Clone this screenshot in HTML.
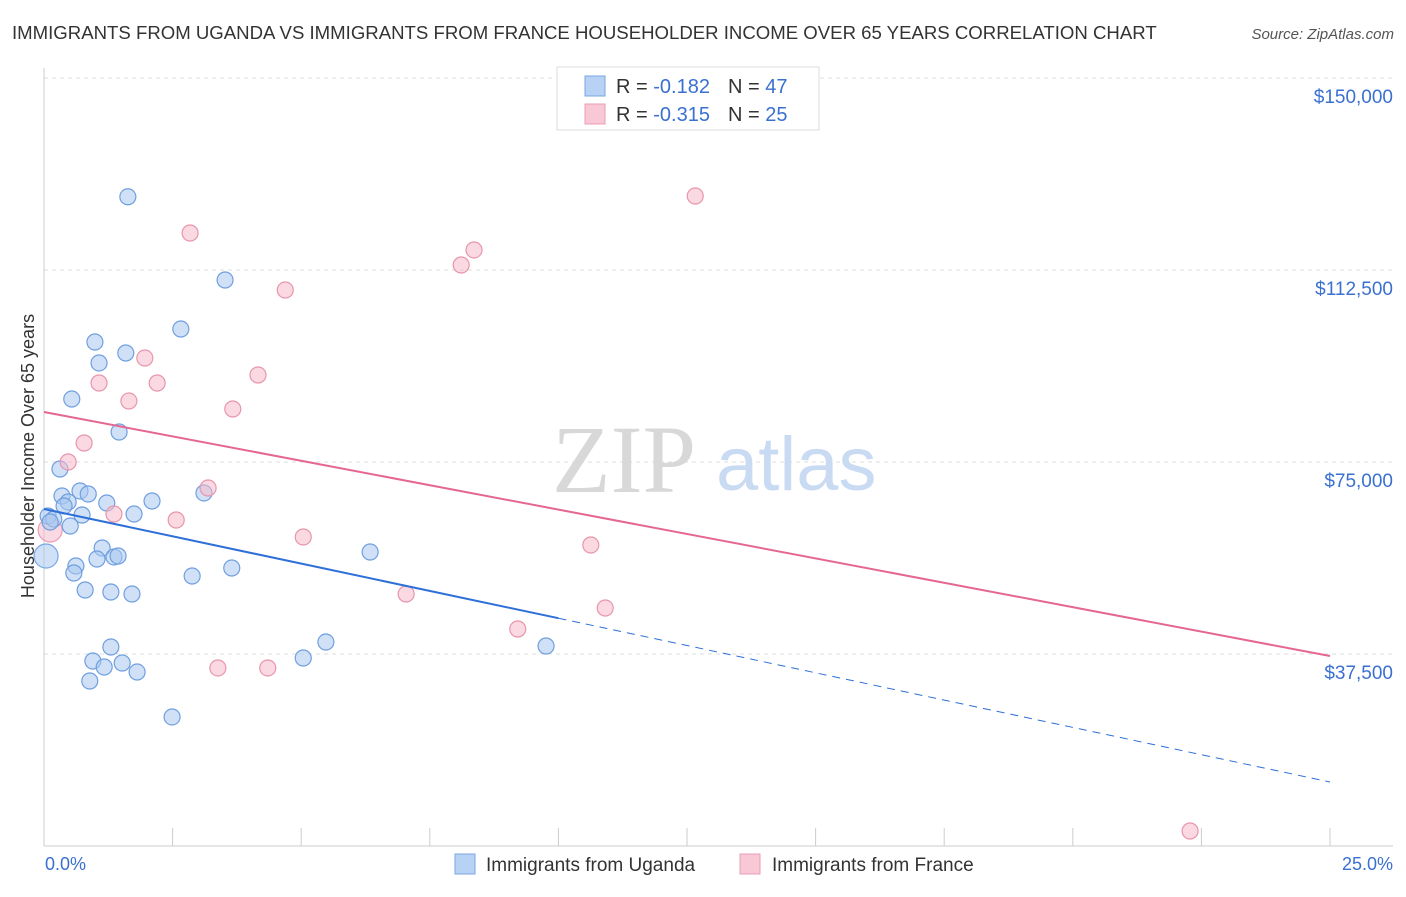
<!DOCTYPE html>
<html><head><meta charset="utf-8"><style>
body{margin:0;background:#fff;font-family:"Liberation Sans",sans-serif;}
svg text{font-family:"Liberation Sans",sans-serif;}
</style></head><body>
<svg width="1406" height="892" viewBox="0 0 1406 892">
<text x="12" y="39" font-size="18.6" fill="#333">IMMIGRANTS FROM UGANDA VS IMMIGRANTS FROM FRANCE HOUSEHOLDER INCOME OVER 65 YEARS CORRELATION CHART</text>
<text x="1394" y="39" font-size="15" fill="#555" font-style="italic" text-anchor="end">Source: ZipAtlas.com</text>
<g id="grid"></g>
<g>
<text x="552" y="492" font-size="96" fill="#d8d8d8" style="font-family:'Liberation Serif',serif">ZIP</text>
<text x="716" y="490" font-size="76" fill="#c9dbf2">atlas</text>
</g>
<g id="axes"></g>
<g id="marks"></g>
<text transform="translate(34,456) rotate(-90)" font-size="18" fill="#333" text-anchor="middle">Householder Income Over 65 years</text>
<text x="45" y="870" font-size="18" fill="#3a70d0">0.0%</text>
<text x="1393" y="870" font-size="18" fill="#3a70d0" text-anchor="end">25.0%</text>
<g>
<rect x="557" y="67" width="262" height="63" fill="#fff" stroke="#ddd"/>
<rect x="585" y="76" width="20" height="20" fill="#b7d2f5" stroke="#7aa6e3"/>
<rect x="585" y="104" width="20" height="20" fill="#f9c8d6" stroke="#ea9db4"/>
<text x="616" y="93" font-size="20" fill="#333">R = <tspan fill="#3a70d0">-0.182</tspan><tspan dx="18">N = </tspan><tspan fill="#3a70d0">47</tspan></text>
<text x="616" y="121" font-size="20" fill="#333">R = <tspan fill="#3a70d0">-0.315</tspan><tspan dx="18">N = </tspan><tspan fill="#3a70d0">25</tspan></text>
</g>
<g>
<rect x="455" y="854" width="20" height="20" fill="#b7d2f5" stroke="#7aa6e3"/>
<text x="486" y="871" font-size="19" fill="#333">Immigrants from Uganda</text>
<rect x="740" y="854" width="20" height="20" fill="#f9c8d6" stroke="#ea9db4"/>
<text x="772" y="871" font-size="19" fill="#333">Immigrants from France</text>
</g>
</svg>
<script>
const yTicks=[37500,75000,112500,150000];
const yTickLabels=["$37,500","$75,000","$112,500","$150,000"];
const xTicks=[0,2.5,5,7.5,10,12.5,15,17.5,20,22.5,25];
const ugandaX=[1.63,3.52,2.66,0.99,1.59,1.07,0.54,1.46,0.31,0.35,0.70,0.86,0.47,0.39,1.22,2.10,0.08,0.19,0.74,1.75,3.11,0.51,1.13,1.03,1.36,1.44,6.34,0.62,0.58,3.65,2.88,0.80,1.30,1.71,1.30,0.95,1.17,1.52,1.81,0.89,5.04,5.48,9.76,2.49,0.12];
const ugandaY=[126800,110550,100980,98440,96290,94340,87300,80860,73630,68360,69340,68750,67190,66410,66990,67380,64450,63870,64650,64840,68950,62500,58200,56050,56450,56640,57420,54690,53320,54300,52730,50000,49610,49220,38870,36130,34960,35740,33980,32230,36720,39840,39060,25200,63280];
const ugandaBigX=[0.04], ugandaBigY=[56640];
const franceX=[2.84,12.66,8.36,8.11,4.69,1.96,1.07,2.20,4.16,1.65,3.67,0.78,0.47,3.19,1.36,2.57,5.04,10.63,7.04,10.91,9.21,3.38,4.35,22.28];
const franceY=[119730,126950,116410,113480,108590,95310,90430,90430,91990,86910,85350,78710,75000,69920,64840,63670,60350,58790,49220,46480,42380,34770,34770,2930];
const franceBigX=[0.12], franceBigY=[61720];
const ugandaTrend=[65820,12500], franceTrend=[84770,37110];
const ugandaSolidEnd=10;
const NS="http://www.w3.org/2000/svg";
const xs=v=>44+v*51.44;
const ys=v=>846-v/195.3125;
function mk(tag,attrs,parent){const e=document.createElementNS(NS,tag);for(const k in attrs)e.setAttribute(k,attrs[k]);document.getElementById(parent).appendChild(e);return e;}
yTicks.forEach((t,i)=>{
 const g=mk('line',{x1:44,x2:1393,y1:ys(t),y2:ys(t),stroke:'#ddd','stroke-dasharray':'4,4'},'grid');
 
 
 const l=mk('text',{x:1393,y:ys(t)+25,'font-size':19,fill:'#3a70d0','text-anchor':'end'},'grid');
 l.textContent=yTickLabels[i];
 
 
});
const ax=mk('line',{x1:44,x2:44,y1:68,y2:846,stroke:'#ccc'},'axes');


const bx=mk('line',{x1:44,x2:1393,y1:846,y2:846,stroke:'#ccc'},'axes');


xTicks.forEach(t=>{
 const tk=mk('line',{x1:xs(t),x2:xs(t),y1:828,y2:846,stroke:'#ccc'},'axes');
 
 
});
function pts(X,Y,r,fill,stroke,name){X.forEach((x,i)=>{
 const c=mk('circle',{cx:xs(x),cy:ys(Y[i]),r:r,fill:fill,'fill-opacity':0.55,stroke:stroke,'stroke-width':1.2},'marks');
 
 
});}
pts(ugandaBigX,ugandaBigY,12,'#a9c8f0','#7aa6e3','uganda-point');
pts(franceBigX,franceBigY,12,'#f6b9cb','#ea9db4','france-point');
pts(ugandaX,ugandaY,8,'#a9c8f0','#6f9fdf','uganda-point');
pts(franceX,franceY,8,'#f6b9cb','#e895ad','france-point');
const tv=(tr,x)=>tr[0]+(tr[1]-tr[0])*x/25;
const ul=mk('line',{x1:xs(0),y1:ys(tv(ugandaTrend,0)),x2:xs(ugandaSolidEnd),y2:ys(tv(ugandaTrend,ugandaSolidEnd)),stroke:'#2e6fd8','stroke-width':2},'marks');


const ud=mk('line',{x1:xs(ugandaSolidEnd),y1:ys(tv(ugandaTrend,ugandaSolidEnd)),x2:xs(25),y2:ys(tv(ugandaTrend,25)),stroke:'#2e6fd8','stroke-width':1,'stroke-dasharray':'8,6'},'marks');


const fl=mk('line',{x1:xs(0),y1:ys(tv(franceTrend,0)),x2:xs(25),y2:ys(tv(franceTrend,25)),stroke:'#e5678f','stroke-width':2},'marks');


</script>
</body></html>
